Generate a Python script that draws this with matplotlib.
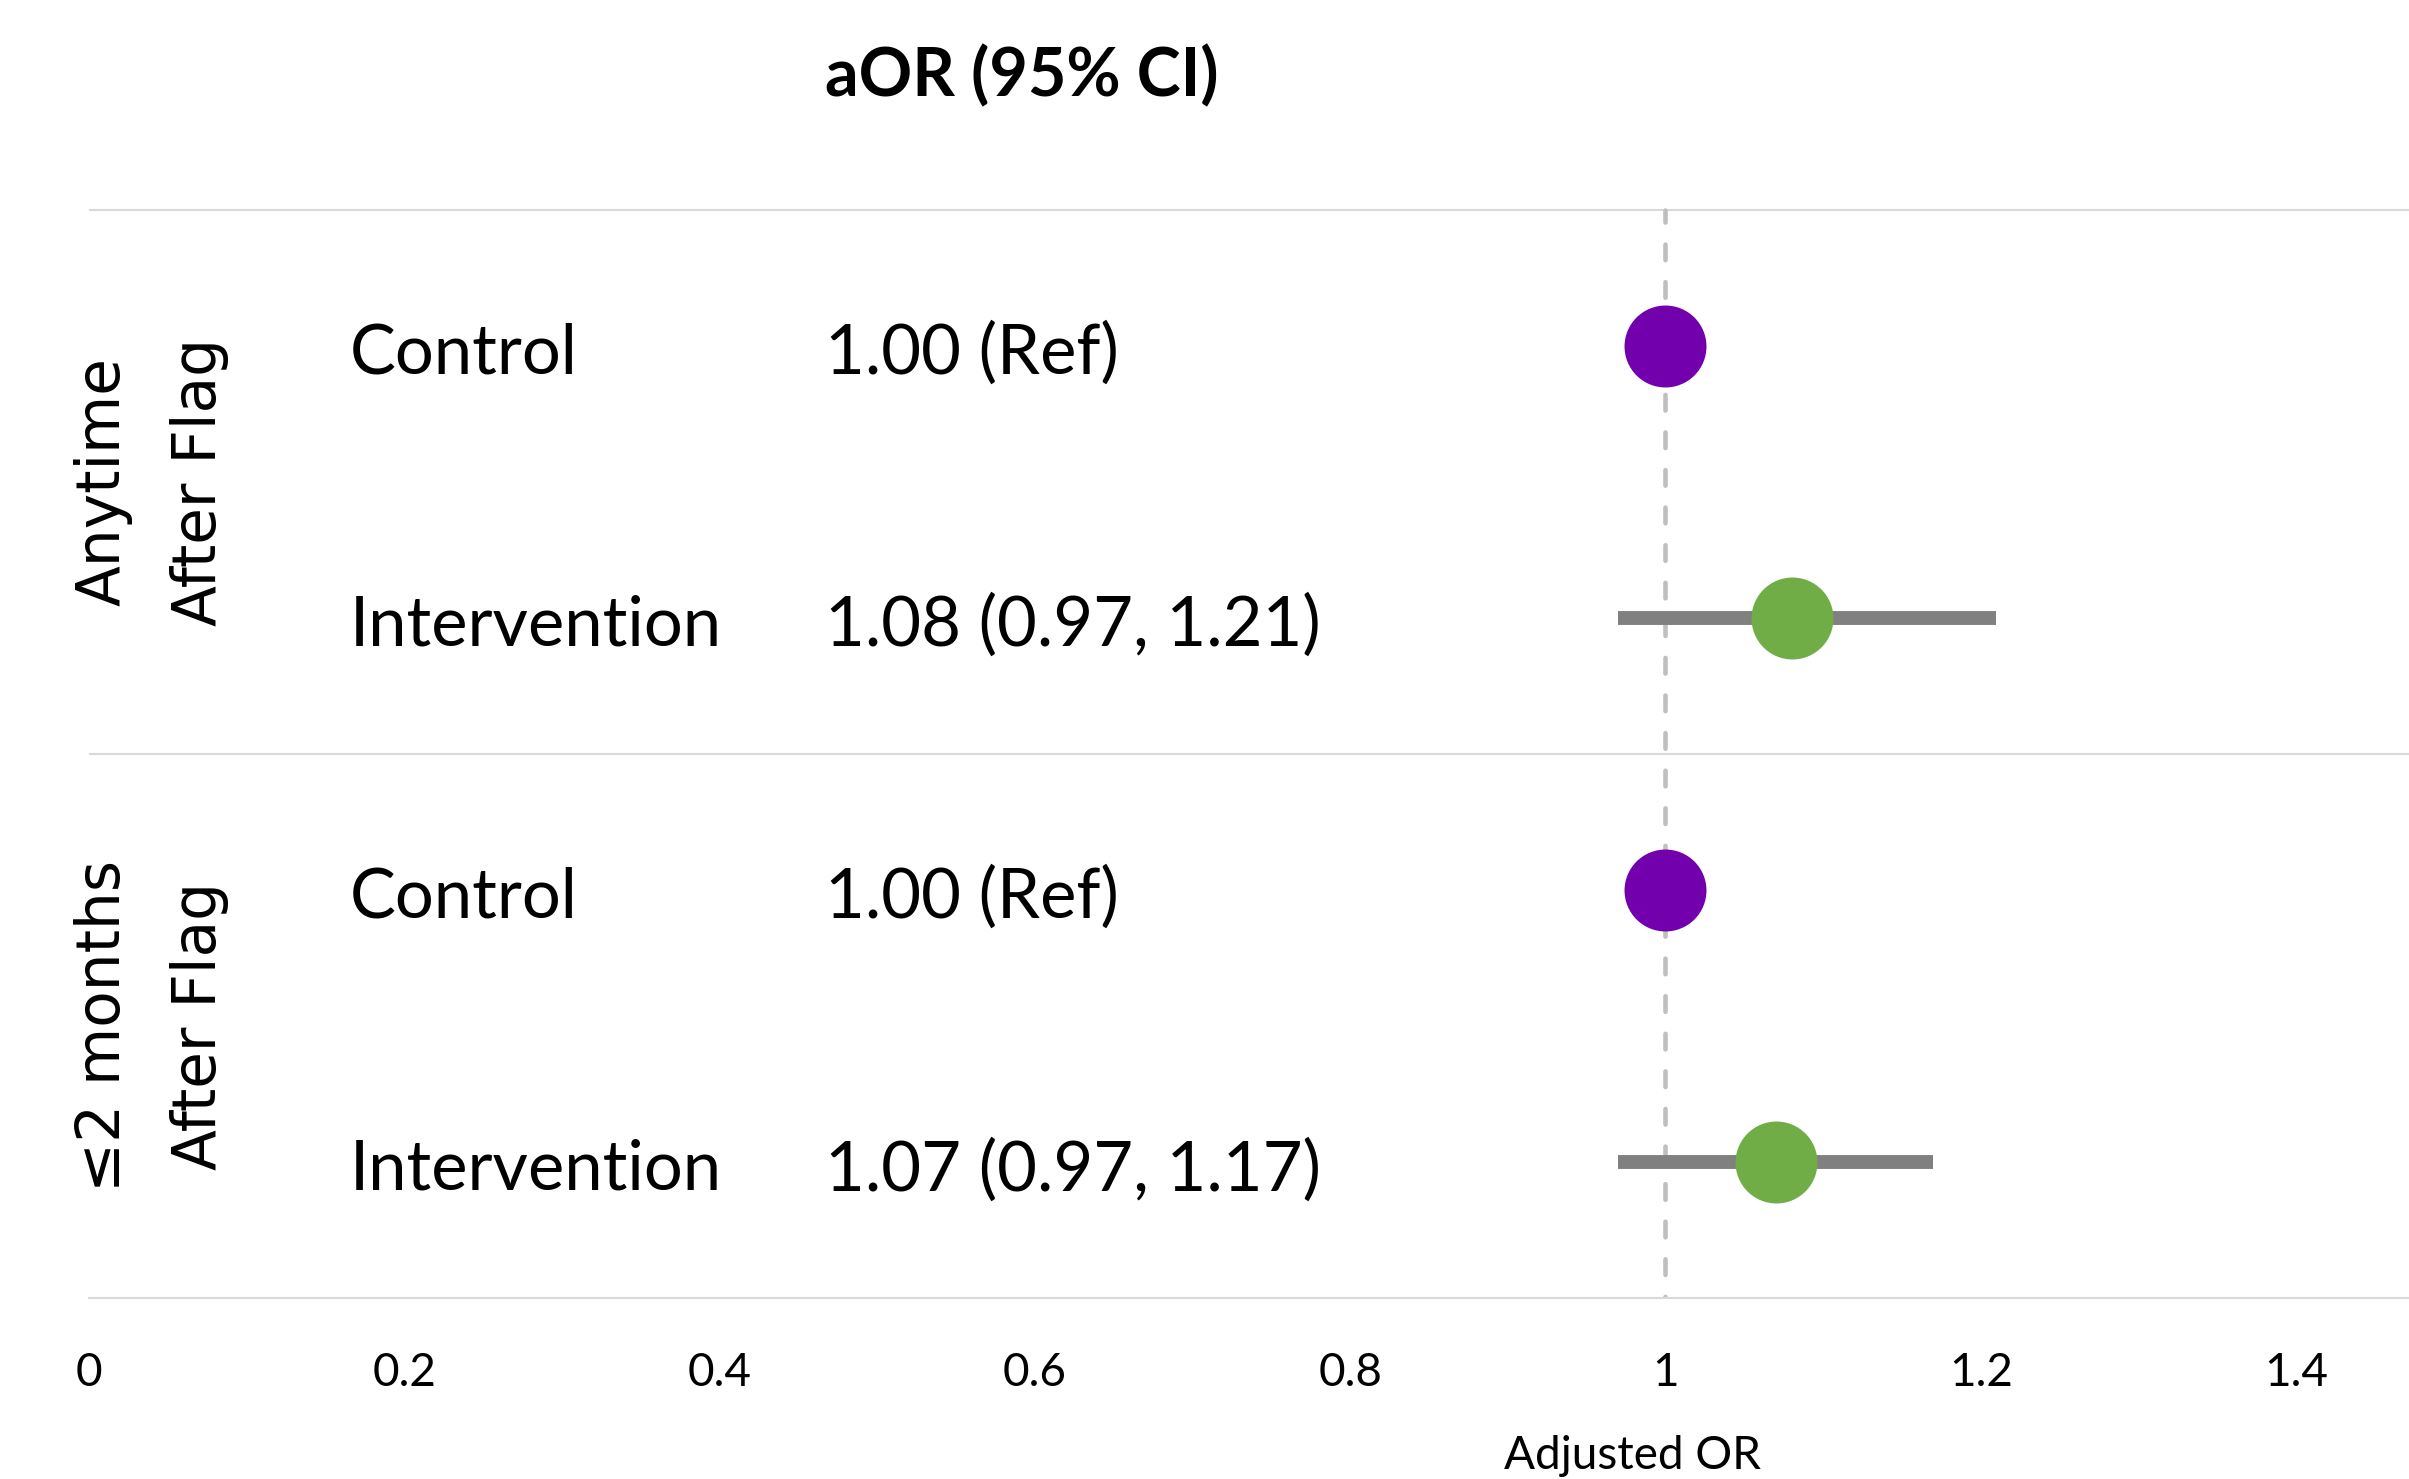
import matplotlib.pyplot as plt

# forest plot values
groups = ["Anytime\nAfter Flag", "\u22642 months\nAfter Flag"]
arms = ["Control", "Intervention", "Control", "Intervention"]
aor = [1.00, 1.08, 1.00, 1.07]
ci_low = [None, 0.97, None, 0.97]
ci_high = [None, 1.21, None, 1.17]
aor_text = ["1.00 (Ref)", "1.08 (0.97, 1.21)", "1.00 (Ref)", "1.07 (0.97, 1.17)"]
xticks = [0, 0.2, 0.4, 0.6, 0.8, 1, 1.2, 1.4]
xtick_labels = ["0", "0.2", "0.4", "0.6", "0.8", "1", "1.2", "1.4"]

purple = "#7200AC"
green = "#70AD47"
grid_col = "#D9D9D9"

fig = plt.figure(figsize=(24.09, 14.79), dpi=100)
ax = fig.add_axes([89 / 2409, 1 - 1298 / 1479, 1 - 89 / 2409, 1298 / 1479])
ax.set_xlim(0, 1.4717)
ax.set_ylim(0.5, 5.27)

rows = [4, 3, 2, 1]
font = "Lato"

# separators
for yy in [4.5, 2.5]:
    ax.axhline(yy, color=grid_col, lw=1.5, zorder=1)
ax.plot([1, 1], [0.45, 4.5], color="#BFBFBF", lw=3.3, dashes=(3.4, 4.8),
        dash_capstyle="round", zorder=2)

for i, y in enumerate(rows):
    if ci_low[i] is not None:
        ax.plot([ci_low[i], ci_high[i]], [y, y], color="#808080", lw=10,
                solid_capstyle="butt", zorder=3)
    col = purple if arms[i] == "Control" else green
    ax.plot(aor[i], y, "o", ms=59, color=col, mec="none", zorder=4)
    ax.text(0.1656, y - 0.03, arms[i], fontsize=49.5, family=font, ha="left", va="center")
    ax.text(0.467, y - 0.03, aor_text[i], fontsize=49.5, family=font, ha="left", va="center")

ax.text(0.467, 4.987, "aOR (95% CI)", fontsize=47.8, family=font, fontweight="bold",
        ha="left", va="center")

for g, yc in zip(groups, [3.5, 1.5]):
    ax.text(0.0395, yc, g, fontsize=43, family="DejaVu Sans", rotation=90,
            ha="center", va="center", multialignment="center", linespacing=1.8)

ax.set_xticks(xticks)
ax.set_xticklabels(xtick_labels, fontsize=33, family=font)
ax.tick_params(axis="x", length=0, pad=39)
ax.set_yticks([])
for s in ["top", "left", "right"]:
    ax.spines[s].set_visible(False)
ax.spines["bottom"].set_color(grid_col)
ax.spines["bottom"].set_linewidth(1.5)

fig.text(1633 / 2409, 1 - 1456 / 1479, "Adjusted OR", fontsize=33, family=font,
         ha="center", va="center")

fig.savefig("out.png", dpi=100)
